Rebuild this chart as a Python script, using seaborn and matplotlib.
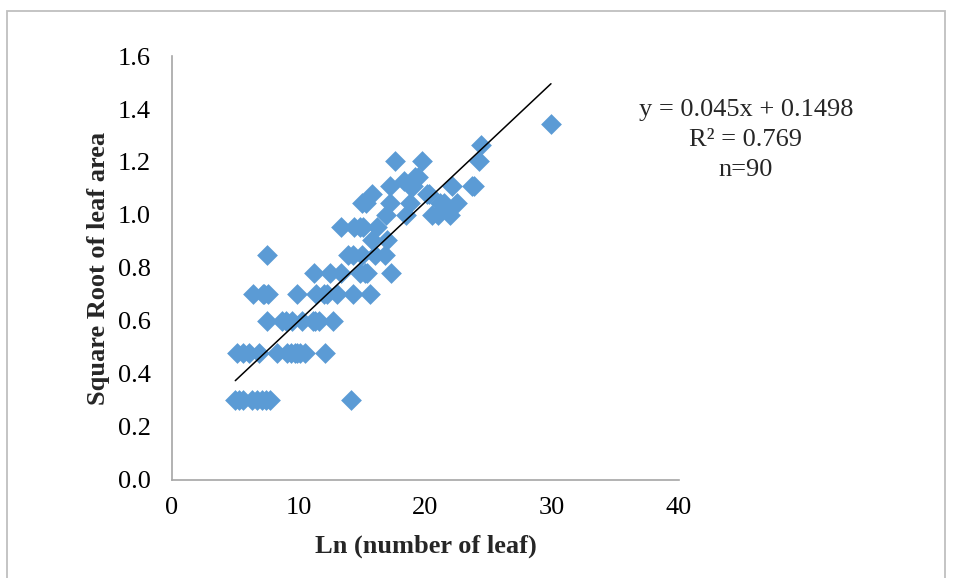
import matplotlib
matplotlib.use('Agg')
import matplotlib.pyplot as plt
import matplotlib.patches as patches
import numpy as np
import pandas as pd
import seaborn as sns

# values
n_leaf = [5.0, 5.3, 5.6, 6.3, 6.7, 7.1, 7.4, 7.7, 14.1,
          5.1, 5.6, 6.1, 6.9, 8.3, 9.1, 9.4, 9.7, 9.9, 10.1, 10.5, 12.1,
          7.5, 8.7, 9.0, 9.5, 10.3, 11.1, 11.3, 11.6, 12.7,
          6.4, 7.2, 7.3, 7.6, 9.9, 11.4, 12.0, 12.2, 13.0, 14.3, 15.6,
          11.2, 12.5, 13.3, 14.8, 15.2, 15.4, 17.3,
          7.5, 13.9, 14.3, 15.0, 16.0, 16.8,
          15.8, 17.0,
          13.3, 14.4, 14.8, 15.1, 16.2,
          16.9, 18.5, 20.5, 21.0, 21.9,
          15.0, 15.3, 17.2, 18.8, 21.15, 21.5, 22.5,
          15.8, 20.1, 20.3,
          17.2, 18.8, 19.0, 22.1, 23.65, 23.8,
          18.3, 19.2, 19.4,
          17.6, 19.7, 24.2,
          24.4, 29.9]
sqrt_area = [0.30] * 9 + [0.48] * 12 + [0.60] * 9 + [0.70] * 11 + [0.78] * 7 + \
            [0.85] * 6 + [0.905] * 2 + [0.956] * 5 + [1.00] * 5 + [1.045] * 7 + \
            [1.08] * 3 + [1.11] * 6 + [1.13, 1.145, 1.145] + [1.205] * 3 + [1.264, 1.343]

slope = 0.045
intercept = 0.1498
r2_text = "0.769"

df = pd.DataFrame({'x': n_leaf, 'y': sqrt_area})

sns.set_style('white')
plt.rcParams['font.family'] = ['Liberation Serif', 'DejaVu Serif']

fig = plt.figure(figsize=(9.55, 5.78), dpi=100)
ax = fig.add_axes([0.180, 0.1696, 0.531, 0.7335])

sns.scatterplot(data=df, x='x', y='y', marker='D', color='#5B9BD5', s=112,
                linewidth=0, ax=ax, zorder=3)

# trend line
xl = np.array([min(n_leaf), max(n_leaf)])
ax.plot(xl, slope * xl + intercept, color='black', lw=1.1, zorder=4)

ax.set_xlim(0, 40)
ax.set_ylim(0, 1.6)
ax.set_xticks(np.arange(0, 41, 10))
ax.set_yticks(np.arange(0, 1.61, 0.2))
ax.set_yticklabels([f"{v:.1f}" for v in np.arange(0, 1.61, 0.2)])

for s in ['top', 'right']:
    ax.spines[s].set_visible(False)
for s in ['left', 'bottom']:
    ax.spines[s].set_color('#A6A6A6')
    ax.spines[s].set_linewidth(1.2)
ax.tick_params(axis='both', direction='out', length=5, width=1.2, color='#A6A6A6',
               labelsize=19, labelcolor='black')
ax.tick_params(axis='y', pad=10)
ax.tick_params(axis='x', pad=7)

ax.set_xlabel('Ln (number of leaf)', fontsize=19, fontweight='bold')
ax.set_ylabel('Square Root of leaf area', fontsize=19, fontweight='bold')
ax.xaxis.set_label_coords(0.5, -0.128)
ax.yaxis.set_label_coords(-0.122, 0.5)

fig.text(0.781, 1 - 110 / 578, f"y = {slope}x + {intercept}", ha='center', va='center', fontsize=19)
fig.text(0.781, 1 - 140 / 578, f"R² = {r2_text}", ha='center', va='center', fontsize=19)
fig.text(0.781, 1 - 170 / 578, f"n={len(n_leaf)}", ha='center', va='center', fontsize=19)

# chart frame
frame = patches.Rectangle((7 / 955, -0.05), (945 - 7) / 955, 1.05 - 11 / 578,
                          transform=fig.transFigure, fill=False,
                          edgecolor='#BFBFBF', lw=1.3)
fig.patches.append(frame)

fig.savefig('out.png', dpi=100)
plt.close()
